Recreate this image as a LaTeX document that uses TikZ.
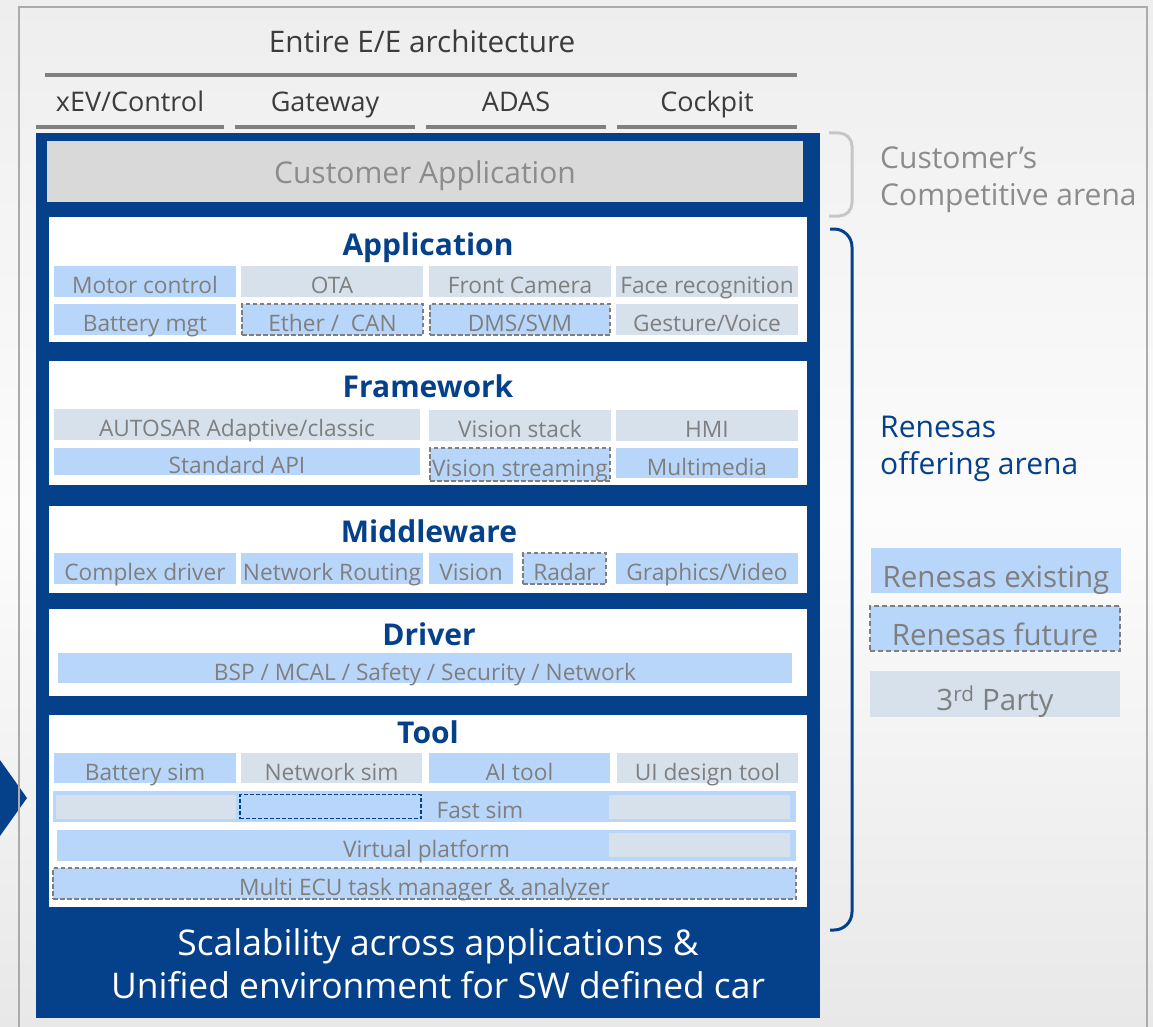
\documentclass[tikz,border=0pt]{standalone}
\usepackage{fontspec}
\setmainfont{Open Sans}
\definecolor{eblue}{HTML}{05418A}
\definecolor{lblue}{HTML}{B8D6FA}
\definecolor{gblue}{HTML}{D7E1EC}
\definecolor{txtgrey}{HTML}{7F7F7F}
\definecolor{hdrtxt}{HTML}{3C3C3C}
\definecolor{custfill}{HTML}{D9D9D9}
\definecolor{custtxt}{HTML}{8C8C8C}
\definecolor{framegrey}{HTML}{ABABAB}
\definecolor{hlinegrey}{HTML}{808080}
\definecolor{brgrey}{HTML}{C6C6C6}
\definecolor{bgtop}{HTML}{EEEEEE}
\definecolor{bgmid}{HTML}{FCFCFC}
\definecolor{bgbot}{HTML}{E8E8E8}
\tikzset{
  cellbase/.style={inner sep=0pt, outer sep=0pt, text height=24pt, text depth=0pt,
    font=\fontsize{22.7}{27}\selectfont, text=txtgrey},
  own/.style={cellbase, fill=lblue},
  third/.style={cellbase, fill=gblue},
  future/.style={cellbase, fill=lblue, draw=txtgrey, dash pattern=on 4.5pt off 2.5pt, line width=1.6pt},
  futblue/.style={cellbase, fill=lblue, draw=eblue, dash pattern=on 4pt off 2pt, line width=1.4pt},
  legbase/.style={cellbase, text height=33pt, font=\fontsize{29.5}{34}\selectfont},
  legown/.style={legbase, fill=lblue},
  legfut/.style={legbase, fill=lblue, draw=txtgrey, dash pattern=on 5pt off 3pt, line width=1.8pt},
  legthird/.style={legbase, fill=gblue},
  panel/.style={inner sep=0pt, outer sep=0pt, fill=white},
  stackbox/.style={inner sep=0pt, outer sep=0pt, fill=eblue},
  custbox/.style={cellbase, fill=custfill, text=custtxt, text height=23pt, font=\fontsize{30}{34}\selectfont},
  title/.style={anchor=base, text=eblue, font=\bfseries\fontsize{30}{34}\selectfont, inner sep=0pt},
  hdr/.style={anchor=base, text=hdrtxt, inner sep=0pt},
  sidetxt/.style={anchor=base west, inner sep=0pt, font=\fontsize{30}{34}\selectfont},
  bottomtxt/.style={anchor=base, inner sep=0pt, text=white, font=\fontsize{35.4}{40}\selectfont},
  hline/.style={draw=hlinegrey, line width=4pt},
}
\newcommand\bx[7]{\node[#2, minimum width={#5pt-#3pt}, minimum height={#6pt-#4pt}] (#1) at ({(#3+#5)/2},{(#4+#6)/2}) {#7};}
\begin{document}
\begin{tikzpicture}[x=1pt,y=-1pt]
\useasboundingbox (0,0) rectangle (1153,1027);
\clip (0,0) rectangle (1153,1027);
\fill[top color=bgtop, bottom color=bgbot, middle color=bgmid] (0,0) rectangle (1153,1027);
% left arrow
\fill[eblue] (-10,746) -- (27,798) -- (-10,850) -- cycle;
% frame
\draw[framegrey, line width=2.5pt] (19,7) rectangle (1147,1080);
% header
\node[hdr, font=\fontsize{29.7}{34}\selectfont] (ee) at (422,53) {Entire E/E architecture};
\draw[hline] (45,75) -- (797,75);
\node[hdr, font=\fontsize{27}{32}\selectfont] (xev) at (130,112) {xEV/Control};
\node[hdr, font=\fontsize{27}{32}\selectfont] (gw) at (325,112) {Gateway};
\node[hdr, font=\fontsize{27}{32}\selectfont] (adas) at (516,112) {ADAS};
\node[hdr, font=\fontsize{27}{32}\selectfont] (cock) at (707,112) {Cockpit};
\draw[hline] (36,127) -- (224,127);
\draw[hline] (235,127) -- (415,127);
\draw[hline] (426,127) -- (606,127);
\draw[hline] (617,127) -- (797,127);
% main stack
\bx{stack}{stackbox}{36}{133}{820}{1018}{}
\bx{cust}{custbox}{47}{141}{803}{202}{Customer Application}
% Application
\bx{papp}{panel}{49}{217}{807}{342}{}
\node[title] (tapp) at (428,255) {Application};
\bx{a11}{own}{54}{266}{236}{297}{Motor control}
\bx{a12}{third}{241}{266}{423}{297}{OTA}
\bx{a13}{third}{429}{266}{611}{297}{Front Camera}
\bx{a14}{third}{616}{266}{798}{297}{Face recognition}
\bx{a21}{own}{54}{304}{236}{335}{Battery mgt}
\bx{a22}{future}{242}{304}{423}{335}{Ether /\ \ CAN}
\bx{a23}{future}{430}{304}{610}{335}{DMS/SVM}
\bx{a24}{third}{616}{304}{798}{335}{Gesture/Voice}
% Framework
\bx{pfw}{panel}{49}{361}{807}{485}{}
\node[title] (tfw) at (428,397) {Framework};
\bx{f11}{third}{54}{409}{420}{440}{AUTOSAR Adaptive/classic}
\bx{f12}{third}{429}{410}{611}{441}{Vision stack}
\bx{f13}{third}{616}{410}{798}{441}{HMI}
\bx{f21}{own}{54}{448}{420}{475}{Standard API}
\bx{f22}{future}{430}{448}{610}{481}{Vision streaming}
\bx{f23}{own}{616}{448}{798}{478}{Multimedia}
% Middleware
\bx{pmw}{panel}{49}{506}{807}{593}{}
\node[title] (tmw) at (429,542) {Middleware};
\bx{m1}{own}{54}{553}{236}{584}{Complex driver}
\bx{m2}{own}{241}{553}{423}{584}{Network Routing}
\bx{m3}{own}{429}{553}{513}{584}{Vision}
\bx{m4}{future}{523}{553}{606}{584}{Radar}
\bx{m5}{own}{616}{553}{798}{584}{Graphics/Video}
% Driver
\bx{pdr}{panel}{49}{609}{807}{696}{}
\node[title] (tdr) at (429,645) {Driver};
\bx{d1}{own}{58}{653}{792}{683}{BSP / MCAL / Safety / Security / Network}
% Tool
\bx{ptl}{panel}{49}{715}{807}{907}{}
\node[title] (ttl) at (428,743) {Tool};
\bx{t11}{own}{54}{753}{236}{783}{Battery sim}
\bx{t12}{third}{241}{753}{422}{783}{Network sim}
\bx{t13}{own}{429}{753}{610}{783}{AI tool}
\bx{t14}{third}{617}{753}{798}{783}{UI design tool}
\bx{fast}{own}{53}{791}{796}{822}{}
\bx{fastg1}{third}{56}{799}{236}{815}{}
\bx{fastb}{futblue}{240}{799}{421}{814}{}
\bx{fastg2}{third}{609}{799}{790}{815}{}
\node[cellbase, anchor=base] (fasttxt) at (480,818) {Fast sim};
\bx{virt}{own}{57}{830}{796}{861}{Virtual platform}
\bx{virtg}{third}{609}{837}{790}{853}{}
\bx{multi}{future}{53}{868}{796}{899}{Multi ECU task manager \& analyzer}
% bottom text
\node[bottomtxt] (sc1) at (438,955) {Scalability across applications \&};
\node[bottomtxt] (sc2) at (438,998) {Unified environment for SW defined car};
% right side
\draw[brgrey, line width=3pt, rounded corners=13pt] (829,133) -- (852,133) -- (852,216) -- (829,216);
\node[sidetxt, text=custtxt] (cs1) at (880,169) {Customer’s};
\node[sidetxt, text=custtxt] (cs2) at (880,205) {Competitive arena};
\draw[eblue, line width=3pt, rounded corners=18pt] (830,229) -- (852,229) -- (852,930) -- (830,930);
\node[sidetxt, text=eblue] (rn1) at (880,437) {Renesas};
\node[sidetxt, text=eblue] (rn2) at (880,474) {offering arena};
% legend
\bx{lgex}{legown}{871}{548}{1121}{593}{Renesas existing}
\bx{lgfu}{legfut}{870}{606}{1120}{651}{Renesas future}
\bx{lgth}{legthird}{870}{671}{1120}{717}{3\textsuperscript{rd} Party}
\end{tikzpicture}
\end{document}
